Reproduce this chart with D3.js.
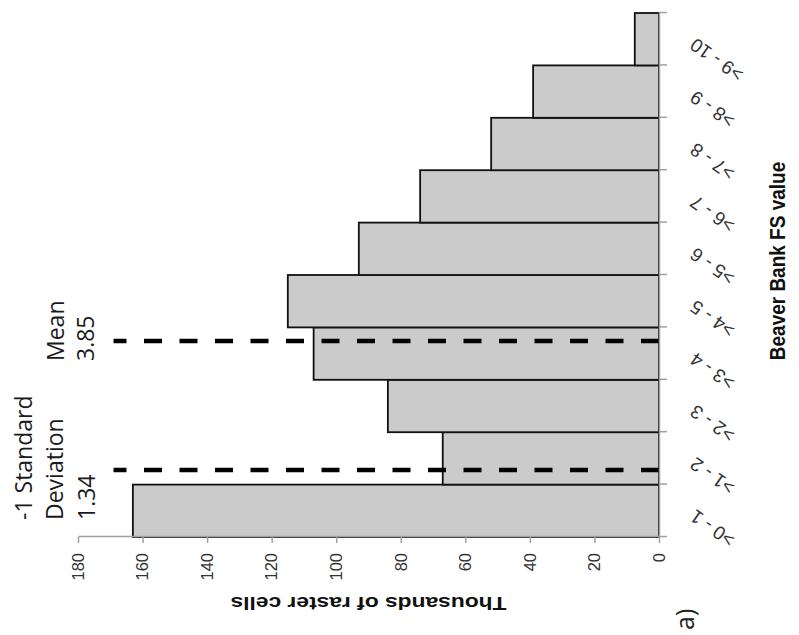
<!DOCTYPE html>
<html>
<head>
<meta charset="utf-8">
<script src="https://cdn.jsdelivr.net/npm/d3@7"></script>
<style>
  body { margin: 0; background: #fff; }
  .tick text { font-family: "Liberation Sans", Arial, sans-serif; }
</style>
</head>
<body>
<div id="chart"></div>
<script>
// histogram of FS values (counts in thousands of raster cells)
const categories = ['>0 - 1', '>1 - 2', '>2 - 3', '>3 - 4', '>4 - 5', '>5 - 6', '>6 - 7', '>7 - 8', '>8 - 9', '>9 - 10'];
const cellCounts = [163, 67, 84, 107, 115, 93, 74, 52, 39, 7.5];
const binEdges = [0, 1, 2, 3, 4, 5, 6, 7, 8, 9, 10];
const valueTicks = [0, 20, 40, 60, 80, 100, 120, 140, 160, 180];

// dashed reference lines (position on the FS axis, as drawn) and their labels
const refPositions = [1.28, 3.74];
const refTops = [169, 169];
const refLabels = [['-1 Standard', 'Deviation', '1.34'], ['Mean', '3.85']];

const W = 799, H = 635;

const svg = d3.select('#chart').append('svg')
    .attr('width', W)
    .attr('height', H);

// the whole chart is drawn upright and then turned a quarter turn anticlockwise
const g = svg.append('g')
    .attr('transform', `translate(0,${H}) rotate(-90)`);

const x = d3.scaleLinear().domain([0, 10]).range([98, 622]);
const y = d3.scaleLinear().domain([0, 180]).range([659, 78]);

// bars
g.selectAll('.bar')
    .data(cellCounts)
    .enter().append('rect')
    .attr('class', 'bar')
    .attr('x', (d, i) => x(binEdges[i]))
    .attr('width', (d, i) => x(binEdges[i + 1]) - x(binEdges[i]))
    .attr('y', d => y(d))
    .attr('height', d => y(0) - y(d))
    .style('fill', '#cbcbcb')
    .style('stroke', '#111')
    .style('stroke-width', '1.8px');

// dashed lines
g.selectAll('.ref')
    .data(refPositions)
    .enter().append('line')
    .attr('class', 'ref')
    .attr('x1', d => x(d))
    .attr('x2', d => x(d))
    .attr('y1', y(0))
    .attr('y2', (d, i) => y(refTops[i]))
    .style('stroke', '#000')
    .style('stroke-width', '4.5px')
    .style('stroke-dasharray', '18 17.5');

// axes
const xAxis = d3.axisBottom(x).tickValues(binEdges).tickSize(8).tickSizeOuter(0).tickFormat('');
const yAxis = d3.axisLeft(y).tickValues(valueTicks).tickSize(6).tickSizeOuter(0).tickPadding(10);

const gx = g.append('g')
    .attr('transform', `translate(0,${y(0)})`)
    .call(xAxis);

const gy = g.append('g')
    .attr('transform', `translate(${x(0)},0)`)
    .call(yAxis);

[gx, gy].forEach(a => {
    a.selectAll('path, line').style('stroke', '#a0a0a0').style('stroke-width', '1.5px');
});
gy.selectAll('text').style('font-size', '16.5px').style('fill', '#333');

// category labels, slanted
g.selectAll('.cat')
    .data(categories)
    .enter().append('text')
    .attr('class', 'cat')
    .attr('transform', (d, i) => `translate(${x(binEdges[i] + 0.5) + 2},${y(0) + 37}) rotate(-55)`)
    .style('text-anchor', 'end')
    .style('font-family', '"Liberation Sans", Arial, sans-serif')
    .style('font-size', '19px')
    .style('fill', '#333')
    .text(d => d);

// axis titles
g.append('text')
    .attr('transform', `translate(38,${(y(0) + y(180)) / 2}) rotate(-90) scale(1.2,1)`)
    .style('text-anchor', 'middle')
    .style('font-family', '"Liberation Sans", Arial, sans-serif')
    .style('font-weight', 'bold')
    .style('font-size', '19px')
    .style('fill', '#111')
    .text('Thousands of raster cells');

g.append('text')
    .attr('transform', `translate(374,785) scale(1,1.2)`)
    .style('text-anchor', 'middle')
    .style('font-family', '"Liberation Sans", Arial, sans-serif')
    .style('font-weight', 'bold')
    .style('font-size', '19px')
    .style('fill', '#111')
    .text('Beaver Bank FS value');

// annotation text boxes
const labelStarts = [115, 274];
const labelBaselines = [[32, 63, 95], [64, 94]];
refLabels.forEach((lines, k) => {
    const t = g.append('text')
        .style('font-family', '"Open Sans", sans-serif')
        .style('font-size', '23px')
        .style('fill', '#1a1a1a');
    lines.forEach((s, j) => {
        t.append('tspan')
            .attr('x', labelStarts[k])
            .attr('y', labelBaselines[k][j])
            .text(s);
    });
});

// panel letter
g.append('text')
    .attr('x', 5)
    .attr('y', 694)
    .style('font-family', '"Open Sans", sans-serif')
    .style('font-size', '25px')
    .style('fill', '#222')
    .text('a)');
</script>
</body>
</html>
